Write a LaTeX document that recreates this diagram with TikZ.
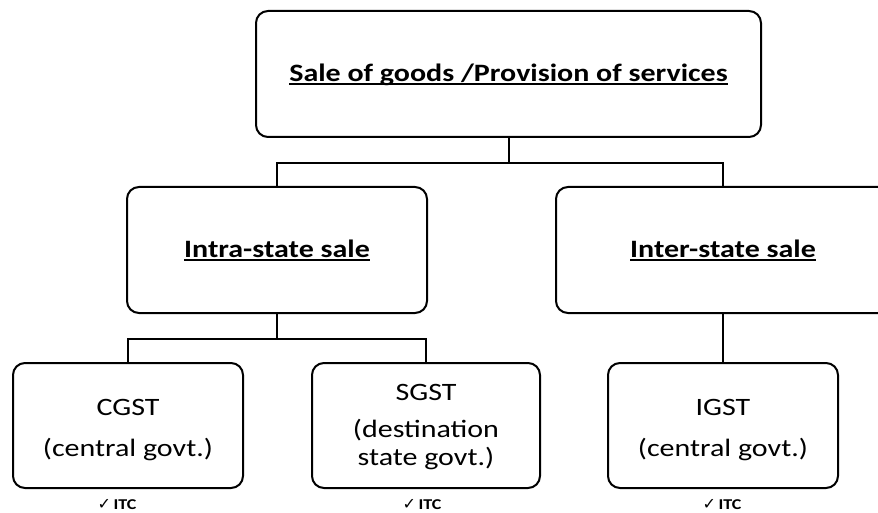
\documentclass[tikz,border=0pt]{standalone}
\usepackage{fontspec}
\setmainfont{Carlito}[FakeStretch=1.2]
\newfontfamily\checkfont{DejaVu Sans}
\newcommand\myul[1]{\setbox0\hbox{#1}\rlap{\rule[-3.5pt]{\wd0}{1.6pt}}\box0}
\newcommand\itcmark{{\checkfont\fontsize{16}{17}\selectfont ✓}\,\textbf{ITC}}
\tikzset{
  box/.style={draw=black, line width=2pt, rounded corners=12pt, fill=white, inner sep=0pt},
  conn/.style={draw=black, line width=2pt},
  big/.style={font=\fontsize{25}{29}\selectfont, anchor=base, inner sep=0pt},
  bigb/.style={font=\fontsize{25}{29}\selectfont\bfseries, anchor=base, inner sep=0pt},
  itc/.style={font=\fontsize{15}{17}\selectfont, anchor=base, inner sep=0pt}
}
\begin{document}
\begin{tikzpicture}[x=1pt,y=-1pt]
\useasboundingbox (0,0) rectangle (878,513);
\fill[white] (0,0) rectangle (878,513);
\clip (0,0) rectangle (878,513);
% boxes
\node[box, minimum width=505pt, minimum height=126pt] (top) at (508.5,74) {};
\node[box, minimum width=300pt, minimum height=126pt] (intra) at (277,250) {};
\node[box, minimum width=334pt, minimum height=126pt] (inter) at (723,250) {};
\node[box, minimum width=230pt, minimum height=125pt] (cgst) at (128,425.5) {};
\node[box, minimum width=228pt, minimum height=125pt] (sgst) at (426,425.5) {};
\node[box, minimum width=230pt, minimum height=125pt] (igst) at (723,425.5) {};
% connectors
\draw[conn] (top.south) -- ++(0,25) coordinate (tj) -| (intra.north);
\draw[conn] (tj) -| (inter.north);
\draw[conn] (intra.south) -- ++(0,25) coordinate (ij) -| (cgst.north);
\draw[conn] (ij) -| (sgst.north);
\draw[conn] (inter.south) -- (igst.north);
% texts
\node[bigb] (toptext) at (508.5,81.5) {\myul{Sale of goods /Provision of services}};
\node[bigb] (intratext) at (277,257) {\myul{Intra-state sale}};
\node[bigb] (intertext) at (723,257) {\myul{Inter-state sale}};
\node[big] (cgst1) at (128,415) {CGST};
\node[big] (cgst2) at (128,456) {(central govt.)};
\node[big] (sgst1) at (426,400) {SGST};
\node[big] (sgst2) at (426,437) {(destination};
\node[big] (sgst3) at (426,465) {state govt.)};
\node[big] (igst1) at (723,415) {IGST};
\node[big] (igst2) at (723,456) {(central govt.)};
\node[itc] (itc1) at (117,509) {\itcmark};
\node[itc] (itc2) at (422,509) {\itcmark};
\node[itc] (itc3) at (722,509) {\itcmark};
\end{tikzpicture}
\end{document}
